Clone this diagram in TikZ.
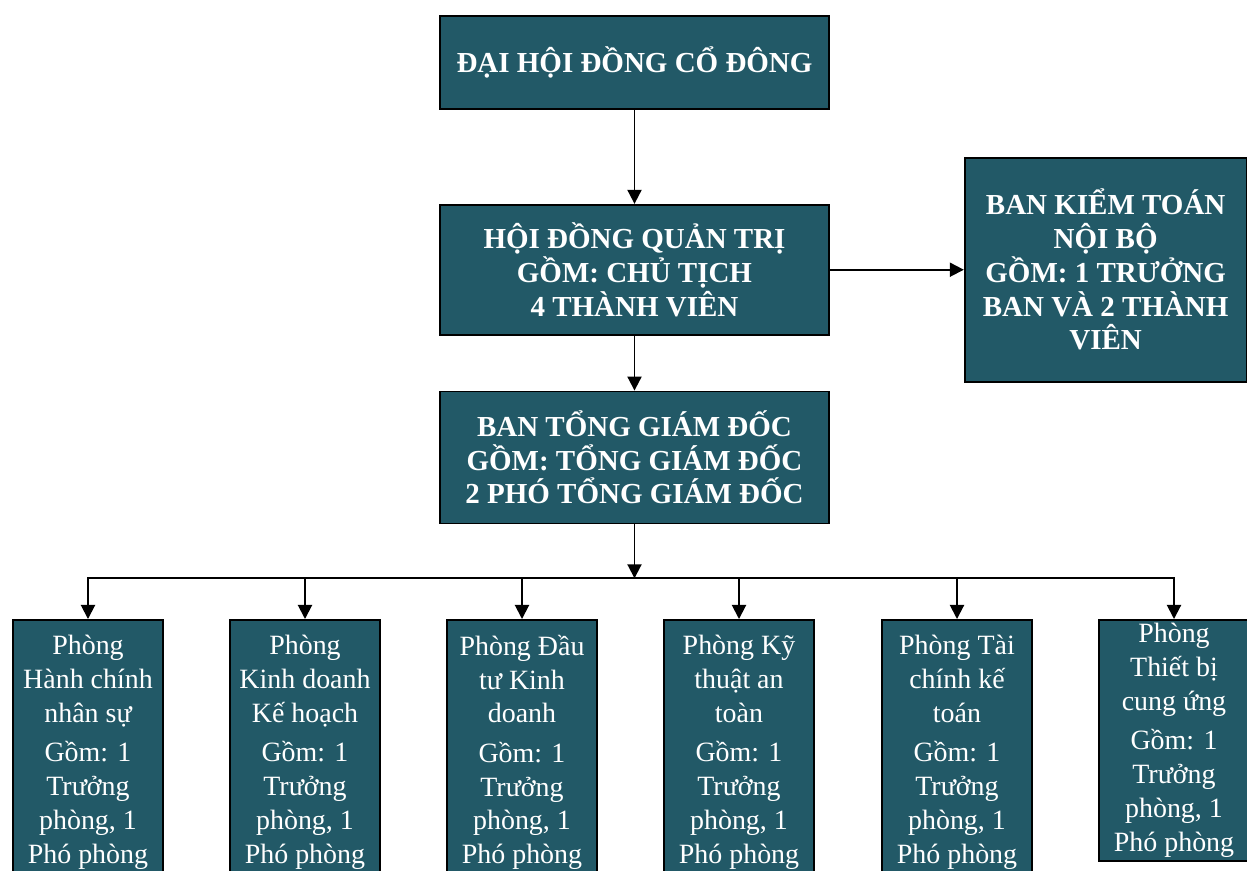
\documentclass[tikz,border=0pt]{standalone}
\usepackage{fontspec}
\setmainfont{Liberation Serif}
\usepackage{tikz}
\usetikzlibrary{arrows.meta, positioning}
\definecolor{boxteal}{RGB}{34, 89, 103}

\begin{document}
\begin{tikzpicture}[
    x=0.02cm, y=-0.02cm,
    >={Triangle[length=8pt, width=8pt]},
    box/.style={draw=black, line width=1pt, fill=boxteal, text=white,
                align=center, inner sep=2pt},
    head/.style={box, font=\bfseries\fontsize{16.5}{19.2}\selectfont,
                 minimum width=7.78cm},
    dept/.style={box, font=\fontsize{15.9}{19.3}\selectfont,
                 minimum width=3cm, minimum height=5.3cm, anchor=north},
    arr/.style={->, line width=1.1pt},
]
\useasboundingbox (0,0) rectangle (1247,870);
\clip (0,0) rectangle (1247,870);

% --- Top levels ---
\node[head, minimum height=1.86cm] at (634.5,62.5) (dhdcd) {ĐẠI HỘI ĐỒNG CỔ ĐÔNG};
\node[head, minimum height=2.6cm, below=1.88cm of dhdcd]
      (hdqt) {HỘI ĐỒNG QUẢN TRỊ\\GỒM: CHỦ TỊCH\\4 THÀNH VIÊN};
\node[head, minimum height=2.64cm, below=1.1cm of hdqt]
      (btgd) {BAN TỔNG GIÁM ĐỐC\\GỒM: TỔNG GIÁM ĐỐC\\2 PHÓ TỔNG GIÁM ĐỐC};

% --- Internal audit ---
\node[head, minimum width=5.64cm, minimum height=4.48cm, right=2.68cm of hdqt]
      (ktnb) {BAN KIỂM TOÁN\\NỘI BỘ\\GỒM: 1 TRƯỞNG\\BAN VÀ 2 THÀNH\\VIÊN};

% --- Departments ---
\coordinate[below=1.08cm of btgd] (bus);
\node[dept] at (88,619) (p_hcns)
      {Phòng\\Hành chính\\nhân sự\\[3pt]Gồm: 1\\Trưởng\\phòng, 1\\Phó phòng};
\node[dept] at (305,619) (p_kdkh)
      {Phòng\\Kinh doanh\\Kế hoạch\\[3pt]Gồm: 1\\Trưởng\\phòng, 1\\Phó phòng};
\node[dept] at (522,619) (p_dtkd)
      {Phòng Đầu\\tư Kinh\\doanh\\[3pt]Gồm: 1\\Trưởng\\phòng, 1\\Phó phòng};
\node[dept] at (739,619) (p_ktat)
      {Phòng Kỹ\\thuật an\\toàn\\[3pt]Gồm: 1\\Trưởng\\phòng, 1\\Phó phòng};
\node[dept] at (957,619) (p_tckt)
      {Phòng Tài\\chính kế\\toán\\[3pt]Gồm: 1\\Trưởng\\phòng, 1\\Phó phòng};
\node[dept, minimum height=4.82cm] at (1174,619) (p_tbcu)
      {Phòng\\Thiết bị\\cung ứng\\[3pt]Gồm: 1\\Trưởng\\phòng, 1\\Phó phòng};

% ---- Arrows ----
\draw[arr] (dhdcd) -- (hdqt);
\draw[arr] (hdqt) -- (ktnb);
\draw[arr] (hdqt) -- (btgd);
\draw[arr] (btgd) -- (bus);
\draw[arr] (bus) -| (p_hcns.north);
\draw[arr] (bus) -| (p_kdkh.north);
\draw[arr] (bus) -| (p_dtkd.north);
\draw[arr] (bus) -| (p_ktat.north);
\draw[arr] (bus) -| (p_tckt.north);
\draw[arr] (bus) -| (p_tbcu.north);

\end{tikzpicture}
\end{document}
